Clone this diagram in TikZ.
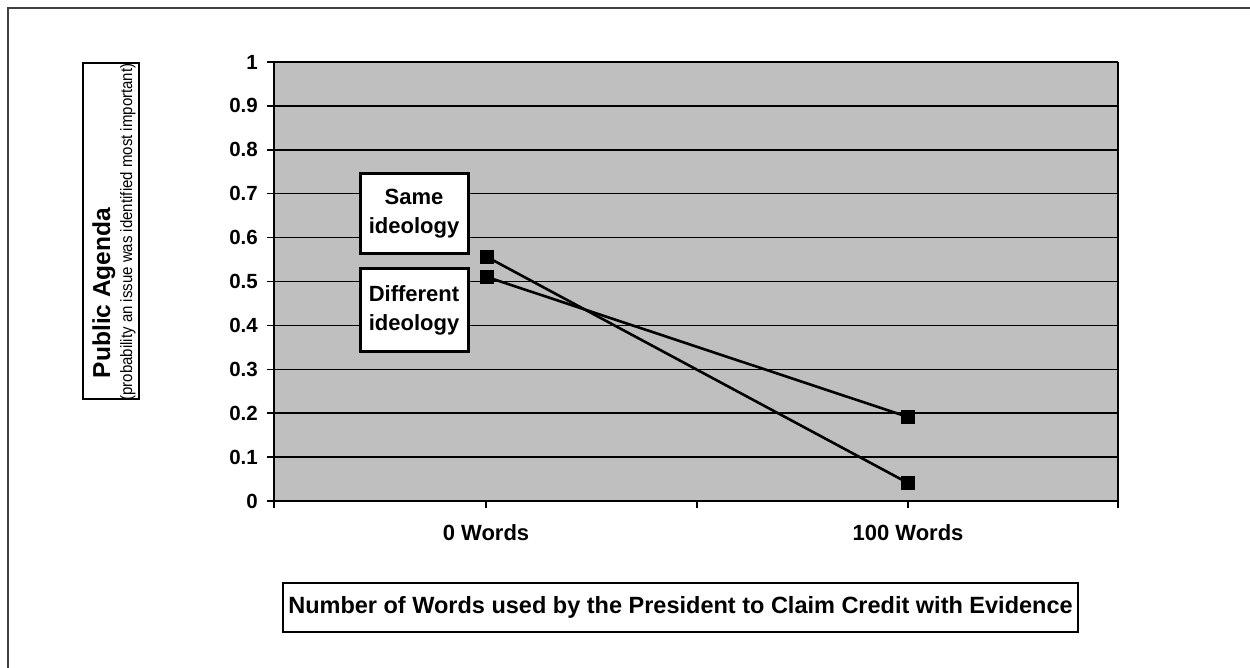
\documentclass[tikz,border=0pt]{standalone}
\usepackage{fontspec}
\setmainfont{Liberation Sans}
\begin{document}
\begin{tikzpicture}[x=1pt,y=-1pt,
  plotfill/.style={fill=black!25},
  gridline/.style={line width=1.5pt,black},
  axisline/.style={line width=2pt,black},
  ticklbl/.style={font=\fontsize{20.5}{24}\selectfont\bfseries,anchor=east,inner sep=0pt},
  catlbl/.style={font=\fontsize{22}{26}\selectfont\bfseries,anchor=base,inner sep=0pt},
  datamark/.style={fill=black,draw=black,minimum size=13pt,inner sep=0pt,rectangle},
  series/.style={line width=2.6pt,black},
  tagbox/.style={draw=black,line width=3pt,fill=white,minimum width=108pt,align=center,
    font=\fontsize{22}{29}\selectfont\bfseries,inner sep=0pt},
  titlebox/.style={draw=black,line width=1.3pt,fill=white,inner sep=0pt}]
\useasboundingbox (0,0) rectangle (1250,668);
% outer frame
\draw[line width=1.6pt,black!75] (8,700) -- (8,8) -- (1270,8);
% plot area
\fill[plotfill] (274,62) rectangle (1118,501);
\foreach \i in {1,...,10}{
  \draw[gridline] (267,{501-43.9*\i}) -- (1118,{501-43.9*\i});
}
\draw[axisline] (274,62) -- (274,508);
\draw[line width=1.6pt] (1118,62) -- (1118,508);
\draw[axisline] (267,501) -- (1118,501);
\foreach \x in {486,697,908}{
  \draw[line width=1.6pt] (\x,501) -- (\x,508);
}
% y tick labels
\foreach \i/\t in {0/0,1/0.1,2/0.2,3/0.3,4/0.4,5/0.5,6/0.6,7/0.7,8/0.8,9/0.9,10/1}{
  \node[ticklbl] (yl\i) at (258,{501-43.9*\i}) {\t};
}
% category labels
\node[catlbl] (c0) at (486,540) {0 Words};
\node[catlbl] (c1) at (908,540) {100 Words};
% series
\node[datamark] (s0) at (487,257) {};
\node[datamark] (s1) at (908,483) {};
\node[datamark] (d0) at (487,277) {};
\node[datamark] (d1) at (908,417) {};
\draw[series] (s0.center) -- (s1.center);
\draw[series] (d0.center) -- (d1.center);
\node[datamark] at (s0) {};
\node[datamark] at (d0) {};
% series tags
\node[tagbox,minimum height=80pt] (same) at (414,214) {Same\\ideology};
\node[tagbox,minimum height=82pt] (diff) at (414,310) {Different\\ideology};
% axis titles
\node[titlebox,minimum width=795pt,minimum height=49pt] (xt) at (680.5,607.5) {};
\node[font=\fontsize{23.5}{26}\selectfont\bfseries] (xtl) at (xt) {Number of Words used by the President to Claim Credit with Evidence};
\node[titlebox,minimum width=56pt,minimum height=336pt] (yt) at (111,231) {};
\node[rotate=90,font=\fontsize{24.5}{26}\selectfont\bfseries,anchor=base] (ytl1) at (110,293) {Public Agenda};
\node[rotate=90,font=\fontsize{16.5}{18}\selectfont,anchor=base] (ytl2) at (132,232) {\scalebox{0.91}[1]{(probability an issue was identified most important)}};
\end{tikzpicture}
\end{document}
